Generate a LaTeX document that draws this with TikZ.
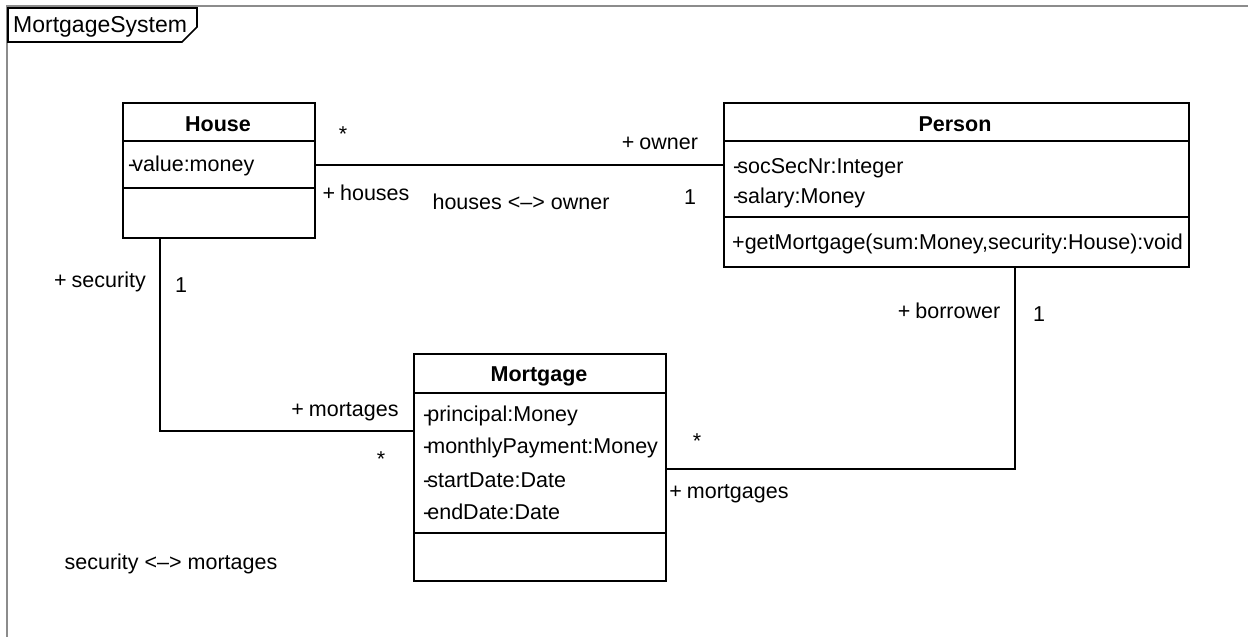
\documentclass[tikz,border=0pt]{standalone}
\usepackage{fontspec}
\setmainfont{Liberation Sans}
\begin{document}
\begin{tikzpicture}[x=1pt,y=-1pt,
  every node/.style={font=\fontsize{21.5}{25}\selectfont, inner sep=0pt},
  classbox/.style={draw=black, line width=1.6pt, anchor=north west, fill=none},
  ttl/.style={font=\fontsize{21.5}{25}\selectfont\bfseries},
  attr/.style={anchor=west},
  lbl/.style={},
  conn/.style={draw=black, line width=1.6pt},
  sep/.style={draw=black, line width=1.4pt}]
\useasboundingbox (0,0) rectangle (1248,637);
% frame
\draw[gray!90, line width=2.6pt] (1248,6) -- (7,6) -- (7,637);
\node[anchor=west, font=\fontsize{23}{26}\selectfont] (frametitle) at (13,27) {MortgageSystem};
\draw[black, line width=1.6pt] (8,8) -- (197,8) -- (197,27) -- (182,42) -- (8,42) -- cycle;
% House
\node[classbox, minimum width=192pt, minimum height=135pt] (house) at (122,102) {};
\node[ttl] (houset) at (218,124) {House};
\draw[sep] (122,141) -- (314,141);
\draw[sep] (122,188) -- (314,188);
\node[attr] (housea) at (128,166) {-\kern-3pt value:money};
% Person
\node[classbox, minimum width=465pt, minimum height=164pt] (person) at (723,102) {};
\node[ttl] (persont) at (955,124) {Person};
\draw[sep] (723,141) -- (1188,141);
\draw[sep] (723,217) -- (1188,217);
\node[attr] (persona1) at (733,168) {-\kern-3pt socSecNr:Integer};
\node[attr] (persona2) at (733,198) {-\kern-3pt salary:Money};
\node[attr] (personm) at (732,244) {+getMortgage(sum:Money,security:House):void};
% Mortgage
\node[classbox, minimum width=252pt, minimum height=227pt] (mort) at (413,353) {};
\node[ttl] (mortt) at (539,376) {Mortgage};
\draw[sep] (413,393) -- (665,393);
\draw[sep] (413,533) -- (665,533);
\node[attr] (morta1) at (423,416) {-\kern-3pt principal:Money};
\node[attr] (morta2) at (423,448) {-\kern-3pt monthlyPayment:Money};
\node[attr] (morta3) at (423,480) {-\kern-3pt startDate:Date};
\node[attr] (morta4) at (423,512) {-\kern-3pt endDate:Date};
% connectors
\coordinate (c1) at (160,431);
\coordinate (c2) at (1015,469);
\coordinate (hp) at (0,165);
\draw[conn] (house.east |- hp) -- (person.west |- hp);
\draw[conn] (house.south -| c1) -- (c1) -- (mort.west |- c1);
\draw[conn] (person.south -| c2) -- (c2) -- (mort.east |- c2);
% labels
\node[lbl] (l1) at (343,134) {*};
\node[lbl] (l2) at (660,143) {+\kern-1pt\ owner};
\node[lbl] (l3) at (366,193) {+\kern-1pt\ houses};
\node[lbl] (l4) at (521,202) {houses <–> owner};
\node[lbl] (l5) at (690,197) {1};
\node[lbl] (l6) at (100,282) {+\kern-1pt\ security};
\node[lbl] (l7) at (181,285) {1};
\node[lbl] (l8) at (345,412) {+\kern-1pt\ mortages};
\node[lbl] (l9) at (381,459) {*};
\node[lbl] (l10) at (949,311) {+\kern-1pt\ borrower};
\node[lbl] (l11) at (1039,314) {1};
\node[lbl] (l12) at (697,441) {*};
\node[lbl] (l13) at (729,494) {+\kern-1pt\ mortgages};
\node[lbl] (l14) at (171,564) {security <–> mortages};
\end{tikzpicture}
\end{document}
